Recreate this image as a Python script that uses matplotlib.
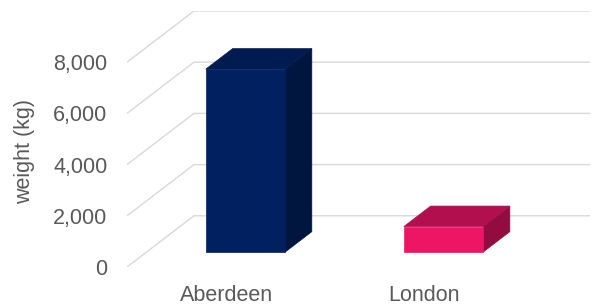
import matplotlib.pyplot as plt
from matplotlib.patches import Polygon

plt.rcParams['font.family'] = ['Liberation Sans', 'DejaVu Sans']

cities = ['Aberdeen', 'London']
weights = [7150, 1000]
y_ticks = [0, 2000, 4000, 6000, 8000]
y_tick_labels = ['0', '2,000', '4,000', '6,000', '8,000']
front_colors = ['#00205F', '#EC1665']
top_colors = ['#001B50', '#B10F4E']
side_colors = ['#00163F', '#920C40']

# oblique projection: depth goes right and up
depth_dx = 0.338   # in category units
depth_dy = 2000    # in value units
bar_w = 0.4
z0, z1 = 0.29, 0.69
grid_col = '#D9D9D9'
text_col = '#595959'

fig = plt.figure(figsize=(5.98, 3.06), dpi=100)
ax = fig.add_axes([127 / 598, 39 / 306, 463 / 598, 256 / 306])
ax.set_xlim(0, len(cities) + depth_dx)
ax.set_ylim(0, y_ticks[-1] + depth_dy)

# walls / gridlines
for v in y_ticks:
    ax.plot([0, depth_dx, len(cities) + depth_dx], [v, v + depth_dy, v + depth_dy],
            color=grid_col, lw=1, zorder=1, solid_capstyle='butt')

def proj(x, y, z):
    return (x + z * depth_dx, y + z * depth_dy)

for i, (val, fc, tc, sc) in enumerate(zip(weights, front_colors, top_colors, side_colors)):
    x0 = i + 0.5 - bar_w / 2
    x1 = x0 + bar_w
    front = [proj(x0, 0, z0), proj(x1, 0, z0), proj(x1, val, z0), proj(x0, val, z0)]
    top = [proj(x0, val, z0), proj(x1, val, z0), proj(x1, val, z1), proj(x0, val, z1)]
    side = [proj(x1, 0, z0), proj(x1, 0, z1), proj(x1, val, z1), proj(x1, val, z0)]
    ax.add_patch(Polygon(side, closed=True, facecolor=sc, edgecolor=sc, lw=0.5, zorder=3))
    ax.add_patch(Polygon(top, closed=True, facecolor=tc, edgecolor=tc, lw=0.5, zorder=3))
    ax.add_patch(Polygon(front, closed=True, facecolor=fc, edgecolor=fc, lw=0.5, zorder=4))

ax.set_yticks(y_ticks)
ax.set_yticklabels(y_tick_labels)
ax.set_xticks([i + 0.5 for i in range(len(cities))])
ax.set_xticklabels(cities)
ax.tick_params(axis='both', length=0, labelsize=15.5, labelcolor=text_col)
ax.tick_params(axis='y', pad=14)
ax.tick_params(axis='x', pad=13)
for s in ax.spines.values():
    s.set_visible(False)

fig.text(25 / 598, 1 - 152 / 306, 'weight (kg)', rotation=90, ha='center', va='center',
         fontsize=15.5, color=text_col)

fig.savefig('out.png', dpi=100)
